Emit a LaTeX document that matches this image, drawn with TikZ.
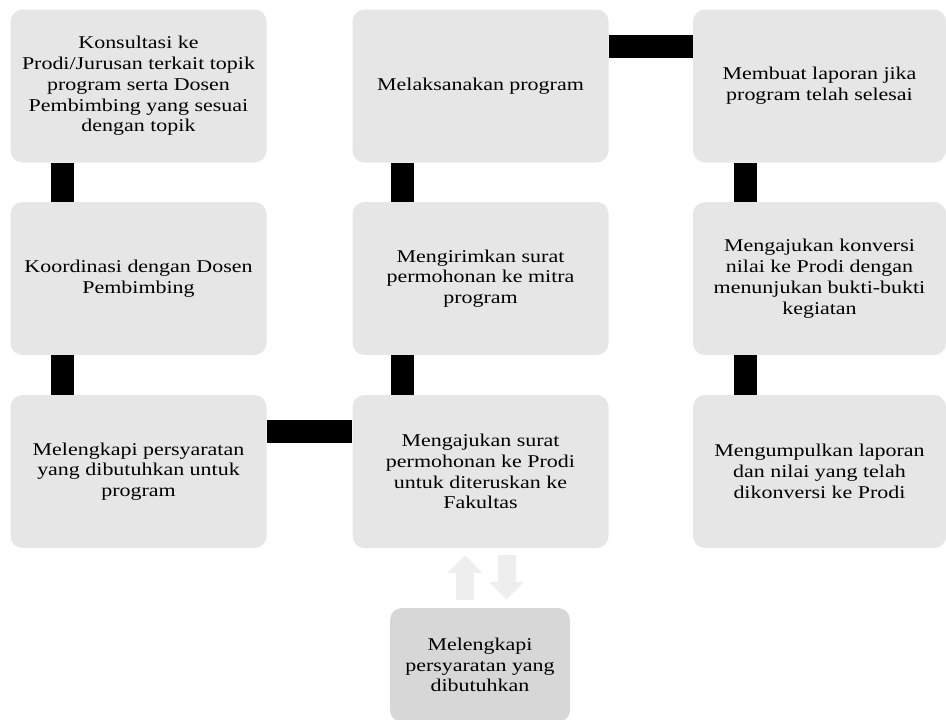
\documentclass[tikz,border=0pt]{standalone}
\usepackage{fontspec}
\setmainfont{Liberation Serif}[FakeStretch=1.22]
\usetikzlibrary{positioning, arrows.meta, calc}
\definecolor{boxgray}{RGB}{230,230,231}
\definecolor{boxdark}{RGB}{215,215,216}
\definecolor{arrowgray}{RGB}{238,238,238}

\begin{document}
\begin{tikzpicture}[x=1pt, y=-1pt, font=\fontsize{18}{20.8}\selectfont,
  langkah/.style={rectangle, rounded corners=12pt, fill=boxgray, minimum width=256pt, minimum height=153pt, inner sep=0pt, align=center},
  batang/.style={line width=23pt, black},
  panah/.style={line width=18pt, arrowgray, -{Triangle[length=18pt, width=34pt]}}]
  \useasboundingbox (0,0) rectangle (946,720);
  % kolom kiri
  \node[langkah] (k1) at (138.5,86) {Konsultasi ke\\ Prodi/Jurusan terkait topik\\ program serta Dosen\\ Pembimbing yang sesuai\\ dengan topik};
  \node[langkah] (k2) at (138.5,278.5) {Koordinasi dengan Dosen\\ Pembimbing};
  \node[langkah] (k3) at (138.5,471.5) {Melengkapi persyaratan\\ yang dibutuhkan untuk\\ program};
  % kolom tengah
  \node[langkah] (p1) at (480.5,86) {Melaksanakan program};
  \node[langkah] (p2) at (480.5,278.5) {Mengirimkan surat\\ permohonan ke mitra\\ program};
  \node[langkah] (p3) at (480.5,471.5) {Mengajukan surat\\ permohonan ke Prodi\\ untuk diteruskan ke\\ Fakultas};
  % kolom kanan
  \node[langkah, minimum width=253pt] (s1) at (819.5,86) {Membuat laporan jika\\ program telah selesai};
  \node[langkah, minimum width=253pt] (s2) at (819.5,278.5) {Mengajukan konversi\\ nilai ke Prodi dengan\\ menunjukan bukti-bukti\\ kegiatan};
  \node[langkah, minimum width=253pt] (s3) at (819.5,471.5) {Mengumpulkan laporan\\ dan nilai yang telah\\ dikonversi ke Prodi};
  % kotak bawah
  \node[langkah, fill=boxdark, minimum width=180pt, minimum height=114pt] (lb) at (480,665) {Melengkapi\\ persyaratan yang\\ dibutuhkan};
  % penghubung
  \draw[batang] ($(k1.south west)+(52.5,0)$) -- ($(k2.north west)+(52.5,0)$);
  \draw[batang] ($(k2.south west)+(52.5,0)$) -- ($(k3.north west)+(52.5,0)$);
  \draw[batang] ($(k3.north east)+(0,36.5)$) -- ($(p3.north west)+(0,36.5)$);
  \draw[batang] ($(p3.north west)+(50.5,0)$) -- ($(p2.south west)+(50.5,0)$);
  \draw[batang] ($(p2.north west)+(50.5,0)$) -- ($(p1.south west)+(50.5,0)$);
  \draw[batang] ($(p1.north east)+(0,37.5)$) -- ($(s1.north west)+(0,37.5)$);
  \draw[batang] ($(s1.south west)+(52.5,0)$) -- ($(s2.north west)+(52.5,0)$);
  \draw[batang] ($(s2.south west)+(52.5,0)$) -- ($(s3.north west)+(52.5,0)$);
  % panah naik turun
  \draw[panah] ($(lb.north)+(-15,-8)$) -- ($(p3.south)+(-15.5,7)$);
  \draw[panah] ($(p3.south)+(26,7)$) -- ($(lb.north)+(26.5,-8)$);
\end{tikzpicture}
\end{document}
